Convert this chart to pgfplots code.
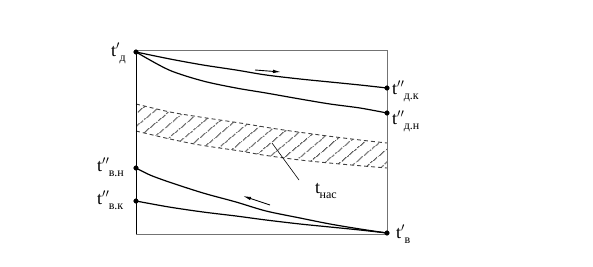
\documentclass[border=0pt]{standalone}
\usepackage{fontspec}
\setmainfont{Liberation Serif}
\usepackage{pgfplots}
\pgfplotsset{compat=1.18}
\usepgfplotslibrary{fillbetween}
\usetikzlibrary{patterns.meta,arrows.meta}
\newcommand{\T}[2]{\fontsize{18}{18}\selectfont t$#1$\kern-0.5pt\raisebox{-0.3em}{\fontsize{12}{12}\selectfont #2}}
\begin{document}
\begin{tikzpicture}
\begin{axis}[
  scale only axis, width=593pt, height=266pt,
  xmin=0, xmax=593, ymin=0, ymax=266, y dir=reverse,
  hide axis, clip=false,
]
\path (rel axis cs:0,0) rectangle (rel axis cs:1,1);
% saturation band
\addplot[name path=A, draw=black!75, dash pattern=on 4pt off 3pt, line width=0.9pt, smooth]
  coordinates {(136,104)(170,112)(200,117)(240,123)(277,129)(320,135)(360,140)(387,143)};
\addplot[name path=B, draw=black!75, dash pattern=on 4pt off 3pt, line width=0.9pt, smooth]
  coordinates {(136,131)(170,139)(200,145)(240,151)(263,155)(300,160)(340,164)(387,168)};
\addplot[pattern={Lines[angle=40,distance=10.5pt,line width=0.75pt]}, pattern color=black]
  fill between[of=A and B];
% box
\addplot[draw=black!55, line width=1pt] coordinates {(136,50)(387,50)(387,234)(136,234)};
\addplot[draw=black, line width=1pt] coordinates {(136,50)(136,234)};
% curves
\addplot[black, line width=1.2pt, smooth]
  coordinates {(136,52)(170,59)(203,65)(236,70)(266,75)(300,79)(330,82)(360,85)(387,88)};
\addplot[black, line width=1.2pt, smooth]
  coordinates {(136,52)(169,70)(203,81)(236,88)(266,93)(300,99)(330,104)(360,108)(387,113)};
\addplot[black, line width=1.2pt, smooth]
  coordinates {(136,168)(150,175)(169,182)(203,193)(236,202)(266,211)(300,218)(330,224)(360,229)(387,233)};
\addplot[black, line width=1.2pt, smooth]
  coordinates {(136,201)(169,207)(203,212)(236,216)(266,220)(300,224)(330,227)(360,230)(387,233)};
% points
\addplot[only marks, mark=*, mark size=2.3pt, black]
  coordinates {(136,52)(387,88)(387,113)(136,168)(136,201)(387,233)};
% arrows
\addplot[black, line width=0.9pt, -{Latex[length=8pt,width=3.5pt]}] coordinates {(255,70)(281,72)};
\addplot[black, line width=0.9pt, -{Latex[length=8pt,width=3.5pt]}] coordinates {(270,205)(243,196)};
% leader
\addplot[black, line width=0.6pt] coordinates {(272,143)(299,180)};
% labels
\node[anchor=base west, inner sep=0pt] at (axis cs:111,56) {\T{'}{д}};
\node[anchor=base west, inner sep=0pt] at (axis cs:392,94) {\T{''}{д.к}};
\node[anchor=base west, inner sep=0pt] at (axis cs:392,124) {\T{''}{д.н}};
\node[anchor=base west, inner sep=0pt] at (axis cs:97,171) {\T{''}{в.н}};
\node[anchor=base west, inner sep=0pt] at (axis cs:97,204) {\T{''}{в.к}};
\node[anchor=base west, inner sep=0pt] at (axis cs:396,238) {\T{'}{в}};
\node[anchor=base west, inner sep=0pt] at (axis cs:315,193) {\T{}{нас}};
\end{axis}
\end{tikzpicture}
\end{document}
